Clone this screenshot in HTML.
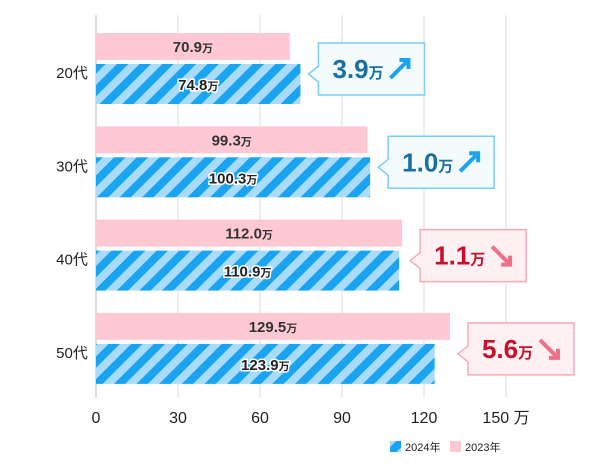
<!DOCTYPE html>
<html><head><meta charset="utf-8"><style>
body{margin:0;background:#fff;font-family:"Liberation Sans","Noto Sans CJK JP",sans-serif}
svg text{font-family:"Liberation Sans","Noto Sans CJK JP",sans-serif}
</style></head><body>
<svg id="c" width="600" height="466" xmlns="http://www.w3.org/2000/svg">
<defs>
<pattern id="st" patternUnits="userSpaceOnUse" width="16" height="16" patternTransform="rotate(45)">
<rect width="16" height="16" fill="#a9dcfb"/><rect width="8" height="16" fill="#1aa3f0"/>
</pattern>
</defs>
</svg>
<script>
const categories=["20代","30代","40代","50代"];
const v2023=[70.9,99.3,112.0,129.5];
const v2024=[74.8,100.3,110.9,123.9];
const diffs=["3.9","1.0","1.1","5.6"];
const ticks=[0,30,60,90,120,150];
const NS="http://www.w3.org/2000/svg";
const svg=document.getElementById('c');
const x=v=>96+v*82/30;
const groupTop=i=>33+i*93.3;
function mk(t,a,p){const e=document.createElementNS(NS,t);for(const k in a)e.setAttribute(k,a[k]);(p||svg).appendChild(e);return e;}
ticks.forEach((t,i)=>{
 if(t>0){const l=mk('line',{x1:x(t),x2:x(t),y1:15,y2:398,stroke:'#dddddd','stroke-width':1});
 
 }
 const tx=mk('text',{x:x(t),y:423,'text-anchor':'middle','font-size':16,fill:'#222'});
 tx.textContent=t===150?'150 万':t;
 
 
});
const ax=mk('line',{x1:96,x2:96,y1:15,y2:398,stroke:'#bbb','stroke-width':1});


categories.forEach((c,i)=>{
 const g=groupTop(i);
 const lab=mk('text',{x:72,y:g+45,'text-anchor':'middle','font-size':15,fill:'#222'});
 lab.textContent=c;
 
 
 const b1=mk('rect',{x:96,y:g,width:x(v2023[i])-96,height:27,fill:'#ffc9d4'});
 
 
 const b2=mk('rect',{x:96,y:g+31,width:x(v2024[i])-96,height:40,fill:'url(#st)'});
 
 
 const t1=mk('text',{x:(96+x(v2023[i]))/2,y:g+19,'text-anchor':'middle','font-size':15,'font-weight':'bold',fill:'#333'});
 t1.innerHTML=v2023[i].toFixed(1)+'<tspan font-size="11">万</tspan>';
 
 
 const t2=mk('text',{x:(96+x(v2024[i]))/2,y:g+57,'text-anchor':'middle','font-size':15,'font-weight':'bold',fill:'#222',stroke:'#fff','stroke-width':3,'paint-order':'stroke'});
 t2.innerHTML=v2024[i].toFixed(1)+'<tspan font-size="11">万</tspan>';
 
 
 const up=v2024[i]>=v2023[i];
 const bx=Math.max(x(v2023[i]),x(v2024[i]))+18, by=g+10, bw=106, bh=52, cy=g+51-10;
 const col=up?'#1a6fa0':'#c8102e', bg=up?'#f3fbfd':'#fff0f3', br=up?'#7ccdf5':'#f8aab9', ac=up?'#1aa3f0':'#f07088';
 const p=mk('path',{d:`M${bx},${by} H${bx+bw} V${by+bh} H${bx} V${cy+8} L${bx-10},${cy} L${bx},${cy-8} Z`,fill:bg,stroke:br,'stroke-width':1.5});
 
 
 const dt=mk('text',{x:bx+14,y:by+35,'font-size':26,'font-weight':'bold',fill:col});
 dt.innerHTML=diffs[i]+'<tspan font-size="15">万</tspan>';
 
 
 const axx=bx+80, ayy=by+26;
 const ar=mk('path',{d:up?`M${axx-8},${ayy+9} L${axx+8},${ayy-7} M${axx+1},${ayy-9} L${axx+10},${ayy-9} L${axx+10},${ayy}`:`M${axx-8},${ayy-9} L${axx+8},${ayy+7} M${axx+1},${ayy+9} L${axx+10},${ayy+9} L${axx+10},${ayy}`,stroke:ac,'stroke-width':4,fill:'none'});
 
 
});
const l1=mk('rect',{x:390,y:441,width:11,height:11,fill:'url(#st)'});


const lt1=mk('text',{x:405,y:451,'font-size':11,fill:'#222'});lt1.textContent='2024年';


const l2=mk('rect',{x:450,y:441,width:11,height:11,fill:'#ffc9d4'});


const lt2=mk('text',{x:465,y:451,'font-size':11,fill:'#222'});lt2.textContent='2023年';


</script>
</body></html>
